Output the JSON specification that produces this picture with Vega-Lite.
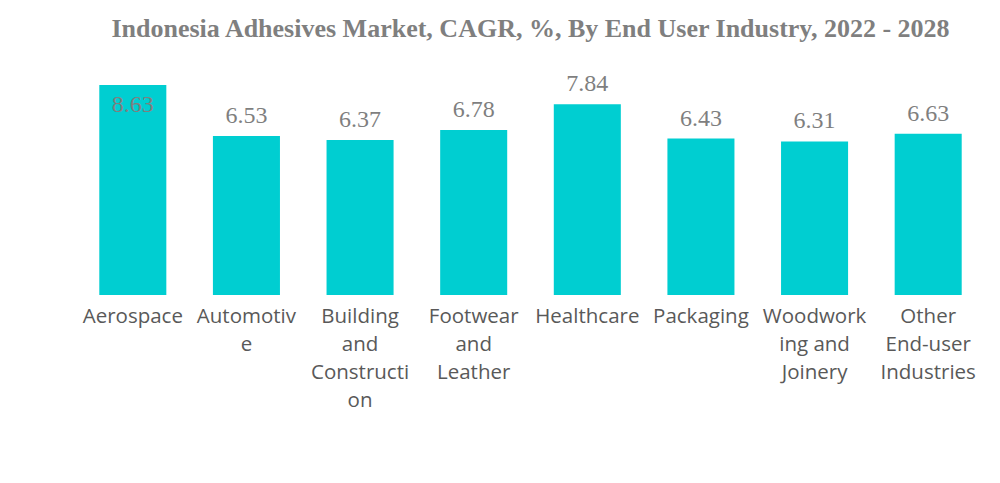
{
  "$schema": "https://vega.github.io/schema/vega-lite/v6.json",
  "autosize": "none",
  "width": 909,
  "height": 219,
  "padding": {"left": 76, "top": 76, "right": 15, "bottom": 188},
  "background": "white",
  "title": {
    "text": "Indonesia Adhesives Market, CAGR, %, By End User Industry, 2022 - 2028",
    "font": "Liberation Serif",
    "fontSize": 26,
    "fontWeight": "bold",
    "color": "#7f7f7f",
    "anchor": "middle",
    "offset": 30
  },
  "data": {
    "values": [
      {"industry": "Aerospace", "cagr": 8.63},
      {"industry": "Automotive", "cagr": 6.53},
      {"industry": "Building and Construction", "cagr": 6.37},
      {"industry": "Footwear and Leather", "cagr": 6.78},
      {"industry": "Healthcare", "cagr": 7.84},
      {"industry": "Packaging", "cagr": 6.43},
      {"industry": "Woodworking and Joinery", "cagr": 6.31},
      {"industry": "Other End-user Industries", "cagr": 6.63}
    ]
  },
  "config": {"view": {"stroke": null}},
  "encoding": {
    "x": {
      "field": "industry",
      "type": "nominal",
      "sort": null,
      "scale": {"paddingInner": 0.41, "paddingOuter": 0.205},
      "axis": {
        "title": null,
        "domain": false,
        "ticks": false,
        "labelAngle": 0,
        "labelFont": "Open Sans",
        "labelFontSize": 20.5,
        "labelColor": "#595959",
        "labelLineHeight": 28,
        "labelPadding": 11,
        "labelBaseline": "top",
        "labelLimit": 200,
        "labelExpr": "({'Automotive': ['Automotiv', 'e'], 'Building and Construction': ['Building', 'and', 'Constructi', 'on'], 'Footwear and Leather': ['Footwear', 'and', 'Leather'], 'Woodworking and Joinery': ['Woodwork', 'ing and', 'Joinery'], 'Other End-user Industries': ['Other', 'End-user', 'Industries']})[datum.value] || datum.value"
      }
    },
    "y": {
      "field": "cagr",
      "type": "quantitative",
      "scale": {"domain": [0, 9], "nice": false},
      "axis": null
    }
  },
  "layer": [
    {"mark": {"type": "bar", "color": "#00CED1"}},
    {
      "transform": [{"filter": "datum.cagr <= 8"}],
      "mark": {
        "type": "text",
        "font": "Liberation Serif",
        "fontSize": 24,
        "color": "#7f7f7f",
        "baseline": "alphabetic",
        "dy": -13
      },
      "encoding": {
        "text": {"field": "cagr", "type": "quantitative", "format": ".2f"}
      }
    },
    {
      "transform": [{"filter": "datum.cagr > 8"}],
      "mark": {
        "type": "text",
        "font": "Liberation Serif",
        "fontSize": 24,
        "color": "#7f7f7f",
        "baseline": "alphabetic",
        "dy": 27
      },
      "encoding": {
        "text": {"field": "cagr", "type": "quantitative", "format": ".2f"}
      }
    }
  ]
}
